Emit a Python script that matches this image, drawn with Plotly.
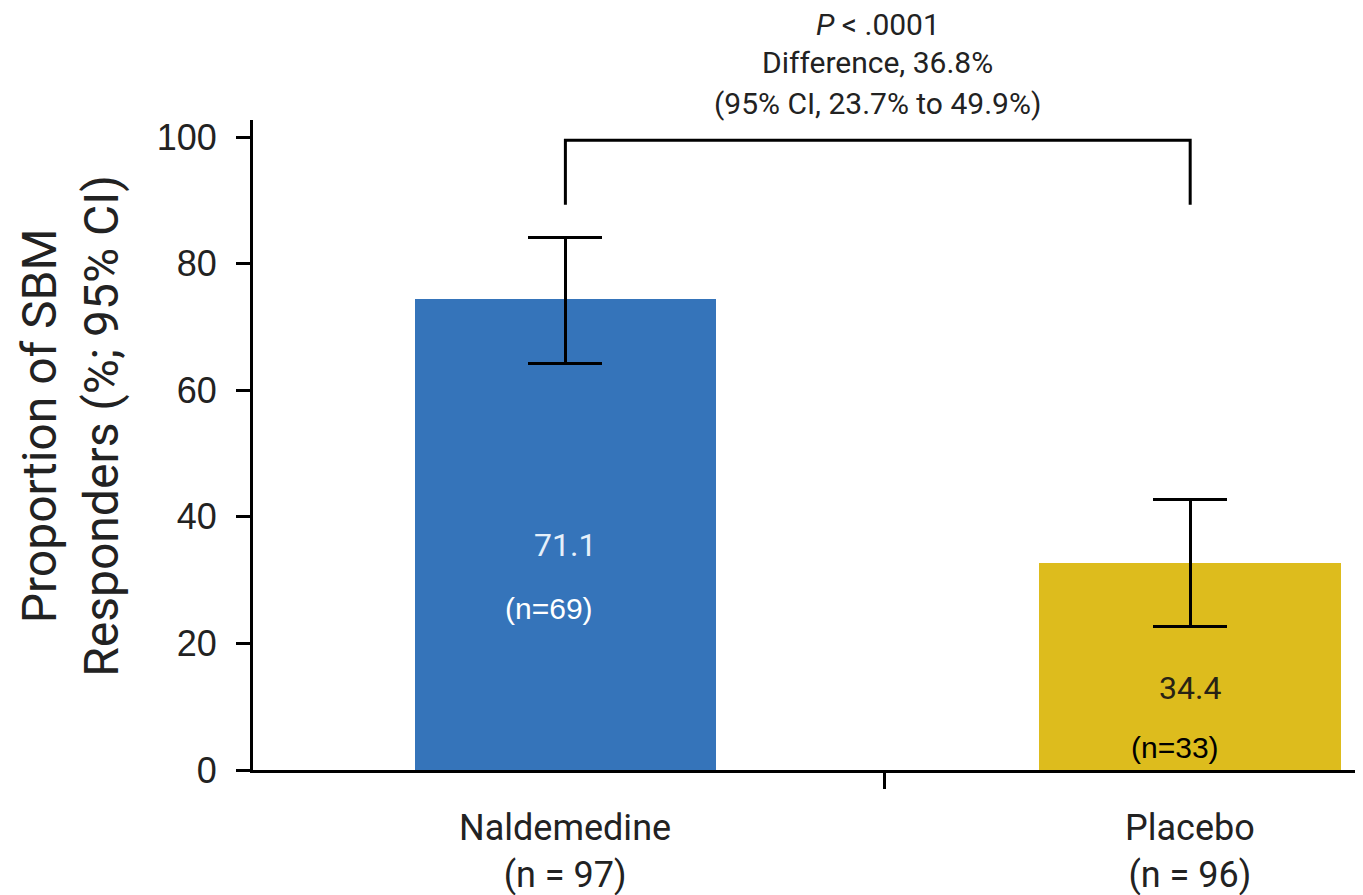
import plotly.graph_objects as go

categories = ["Naldemedine", "Placebo"]
cat_n = ["(n = 97)", "(n = 96)"]
x_pos = [0, 1]
bar_values = [74.4, 32.7]          # drawn bar heights
ci_low = [64.3, 22.7]
ci_high = [84.2, 42.8]
value_labels = ["71.1", "34.4"]
responder_labels = ["(n=69)", "(n=33)"]
bar_colors = ["rgb(53,116,186)", "rgb(221,188,29)"]
label_colors = ["rgb(230,240,250)", "rgb(40,35,20)"]
n_label_colors = ["white", "black"]
label_value_y = [35.5, 13.0]
label_n_y = [25.5, 3.6]
label_n_dx = [-0.027, -0.025]
bracket_y = [89.3, 99.5]
y_ticks = [0, 20, 40, 60, 80, 100]
stats_text = ["<i>P</i> < .0001", "Difference, 36.8%", "(95% CI, 23.7% to 49.9%)"]
stats_y = [1.147, 1.088, 1.025]

font_main = "Roboto, Liberation Sans, sans-serif"

fig = go.Figure()
fig.add_trace(go.Bar(
    x=x_pos, y=bar_values, width=0.483,
    marker=dict(color=bar_colors, line=dict(width=0)),
    error_y=dict(type="data", symmetric=False,
                 array=[h - v for h, v in zip(ci_high, bar_values)],
                 arrayminus=[v - l for v, l in zip(bar_values, ci_low)],
                 color="black", thickness=3, width=37),
    showlegend=False, hoverinfo="skip"))

# bracket
fig.add_trace(go.Scatter(
    x=[x_pos[0], x_pos[0], x_pos[1], x_pos[1]],
    y=[bracket_y[0], bracket_y[1], bracket_y[1], bracket_y[0]],
    mode="lines", line=dict(color="black", width=3),
    showlegend=False, hoverinfo="skip"))

for i, xv in enumerate(x_pos):
    fig.add_annotation(x=xv, y=label_value_y[i], text=value_labels[i], showarrow=False,
                       font=dict(family=font_main, size=32, color=label_colors[i]))
    fig.add_annotation(x=xv + label_n_dx[i], y=label_n_y[i], text=responder_labels[i], showarrow=False,
                       font=dict(family="Liberation Sans, Arial, sans-serif", size=30, color=n_label_colors[i]))
    fig.add_annotation(x=xv, y=0, yref="paper", yanchor="top", yshift=-35,
                       text=categories[i] + "<br>" + cat_n[i], showarrow=False,
                       font=dict(family=font_main, size=36, color="#222"))

for txt, sy in zip(stats_text, stats_y):
    fig.add_annotation(x=(x_pos[0] + x_pos[1]) / 2, xanchor="center", y=sy, yref="paper",
                       yanchor="middle", text=txt, showarrow=False,
                       font=dict(family=font_main, size=30, color="#222"))

fig.add_annotation(x=-0.1655, xref="paper", xanchor="center", y=0.53, yref="paper", yanchor="middle",
                   text="Proportion of SBM<br>Responders (%; 95% CI)", textangle=-90,
                   showarrow=False, font=dict(family=font_main, size=48, color="#222"))

# page body has an 8px margin; figure sized to fit the 1363x895 window
fig.update_layout(
    width=1355, height=887,
    margin=dict(l=245, r=6, t=112, b=125),
    plot_bgcolor="white", paper_bgcolor="white",
    bargap=0,
    xaxis=dict(range=[-0.5, 1.267], tickvals=[0.51], ticktext=[""], ticks="outside",
               ticklen=16, tickwidth=2.5, tickcolor="black",
               showline=True, linecolor="black", linewidth=3, showgrid=False, zeroline=False,
               fixedrange=True),
    yaxis=dict(range=[0, 102.7], tickvals=y_ticks, ticks="outside", ticklen=14, tickwidth=2.5,
               tickcolor="black", showline=True, linecolor="black", linewidth=3,
               showgrid=False, zeroline=False, ticklabelstandoff=12,
               tickfont=dict(family="Liberation Sans, Arial, sans-serif", size=36, color="#222")),
)

fig.write_html("out.html")
